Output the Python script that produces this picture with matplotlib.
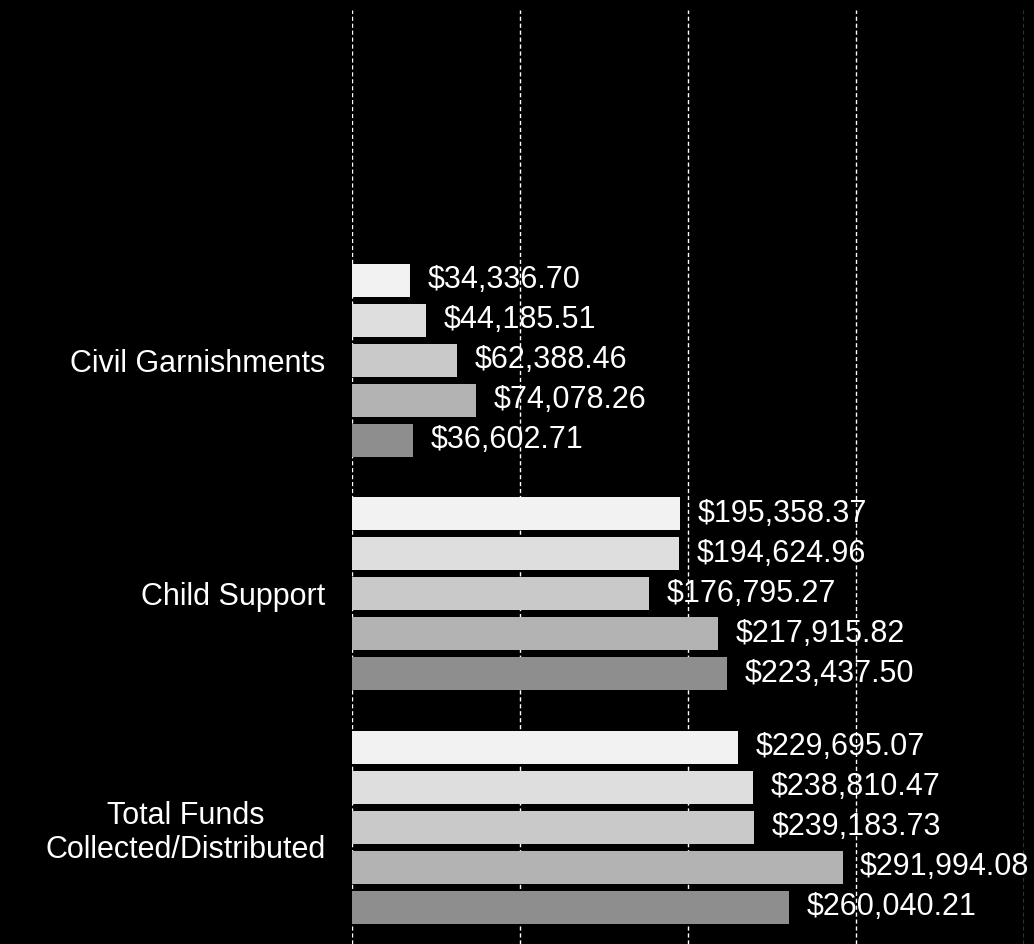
import numpy as np
import matplotlib
matplotlib.use("Agg")
import matplotlib.pyplot as plt

# categories from bottom to top (top slot is empty in the original)
categories = ["Total Funds\nCollected/Distributed", "Child Support", "Civil Garnishments", ""]

# five series per category, listed top bar first
civil = [34336.70, 44185.51, 62388.46, 74078.26, 36602.71]
child = [195358.37, 194624.96, 176795.27, 217915.82, 223437.50]
total = [229695.07, 238810.47, 239183.73, 291994.08, 260040.21]

series_colors = ["#f2f2f2", "#dedede", "#c9c9c9", "#b3b3b3", "#8e8e8e"]

plt.rcParams["font.family"] = ["Liberation Sans", "DejaVu Sans"]

fig = plt.figure(figsize=(10.34, 9.44), dpi=100, facecolor="black")
ax = fig.add_axes([352 / 1034, 0.0, (1024 - 352) / 1034, 1 - 10 / 944])
ax.set_facecolor("black")

groups = [total, child, civil]
bar_h = 0.142
step = 0.171
for gi, vals in enumerate(groups):
    for si, v in enumerate(vals):
        y = gi + (2 - si) * step
        ax.barh(y, v, height=bar_h, color=series_colors[si], linewidth=0, zorder=2)
        ax.text(v + 10500, y, f"${v:,.2f}", color="white", fontsize=22,
                va="center", ha="left", zorder=3)

ax.set_xlim(0, 400000)
ax.set_ylim(-0.5, 3.5)
ax.set_xticks([0, 100000, 200000, 300000, 400000])
ax.set_yticks(range(len(categories)))
ax.set_yticklabels(categories, color="white", fontsize=22, linespacing=1.2,
                   multialignment="center")
ax.tick_params(axis="y", length=0, pad=19)
ax.tick_params(axis="x", length=0, labelbottom=False)
for s in ax.spines.values():
    s.set_visible(False)
ax.grid(axis="x", color="white", linestyle=(0, (3, 2)), linewidth=1.0, zorder=1)
ax.set_axisbelow(True)

fig.savefig("out.png", dpi=100, facecolor="black")
